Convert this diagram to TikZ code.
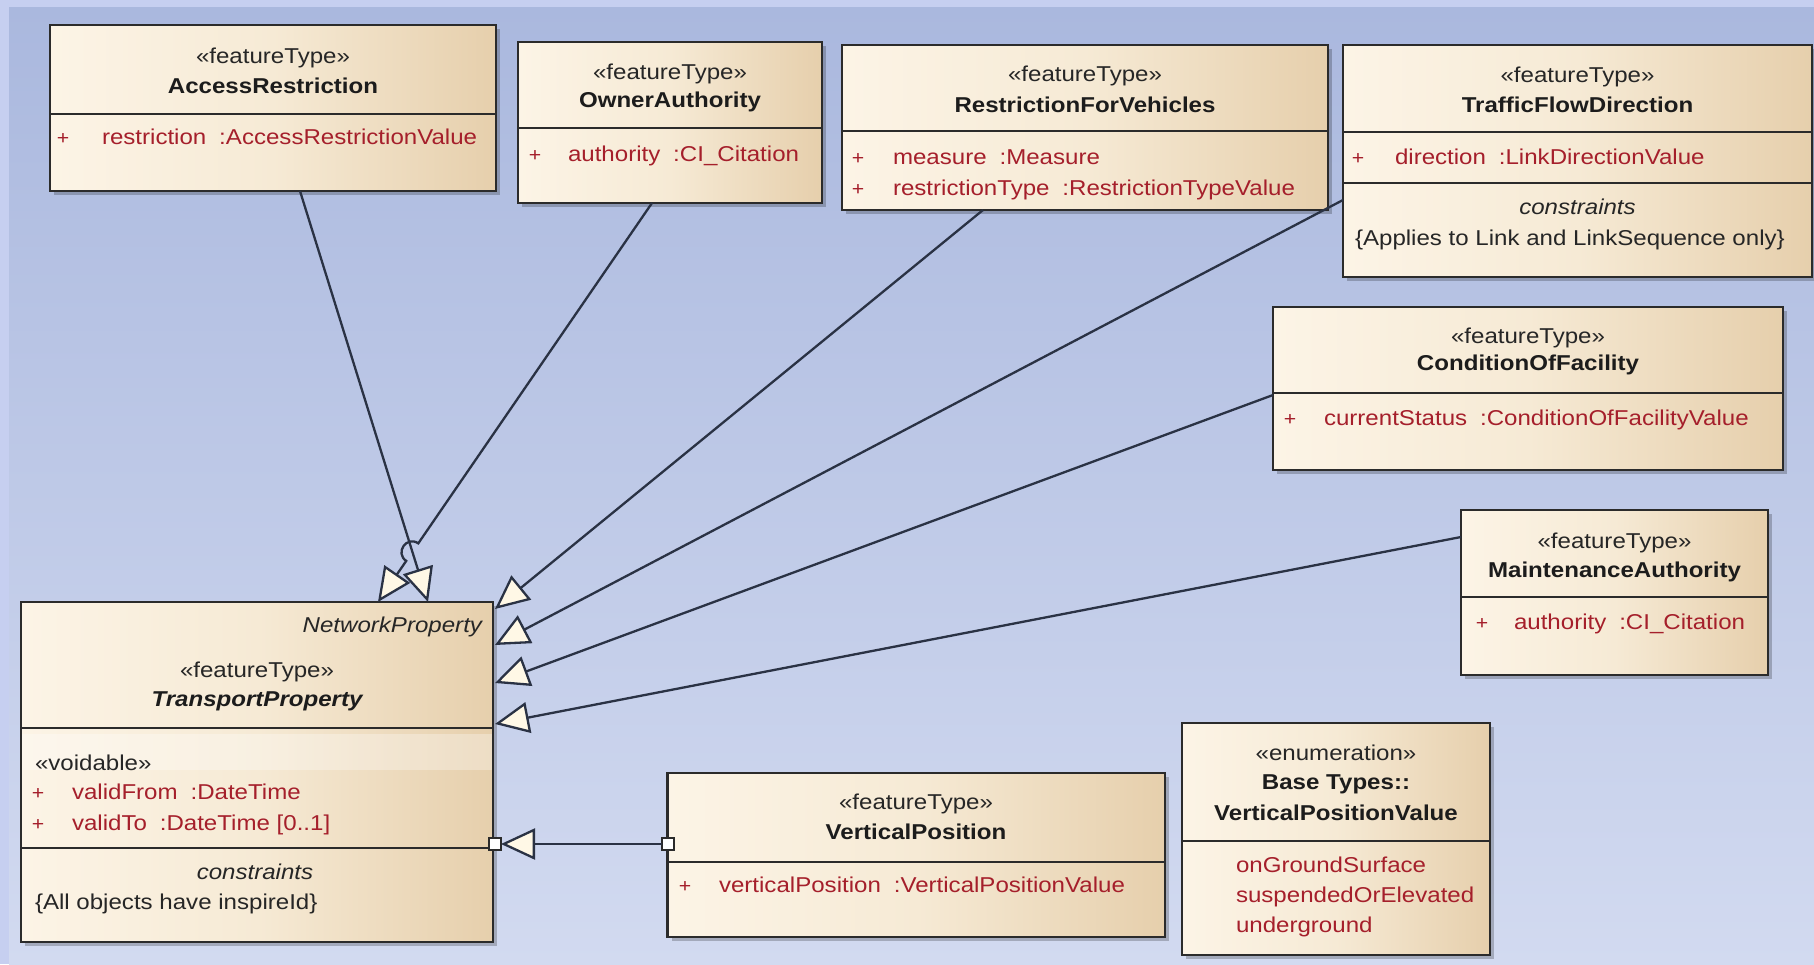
\documentclass[tikz,border=0pt]{standalone}
\usepackage{fontspec}
\setmainfont{Liberation Sans}[FakeStretch=1.12]
\usetikzlibrary{arrows.meta,calc,shadows}
\definecolor{bgEdge}{HTML}{C6CFF0}
\definecolor{bgTop}{HTML}{AAB8DE}
\definecolor{bgBot}{HTML}{D2DAF0}
\definecolor{boxA}{HTML}{FCF4E6}
\definecolor{boxB}{HTML}{F6EAD5}
\definecolor{boxC}{HTML}{E6CFAC}
\definecolor{edgeC}{HTML}{2B2B2B}
\definecolor{lineC}{HTML}{2A3244}
\definecolor{nameC}{HTML}{1C1C1C}
\definecolor{stereoC}{HTML}{262626}
\definecolor{attrC}{HTML}{A51F2B}
\definecolor{tipC}{HTML}{FFF8E6}
\pgfdeclarehorizontalshading{eabox}{100bp}{color(0bp)=(boxA); color(25bp)=(boxA); color(50bp)=(boxB); color(75bp)=(boxC); color(100bp)=(boxC)}
\newcommand\basefont{\fontsize{21.5}{26}\selectfont}
\newcommand\umlbox[5]{\node[umlbox,minimum width={#4pt-#2pt},minimum height={#5pt-#3pt},anchor=north west] (#1) at (#2,#3) {};}
\newcommand\sepat[2]{\draw[sepline] (#1.west |- 0,#2) -- (#1.east |- 0,#2);}
\newcommand\tsep{\hspace{0.6em}}
\begin{document}
\begin{tikzpicture}[x=1pt,y=-1pt,
  umlbox/.style={draw=edgeC, line width=2.5pt, shade, shading=eabox, outer sep=0pt, inner sep=0pt,
    drop shadow={shadow xshift=4pt, shadow yshift=-4pt, opacity=0.22, fill=black}},
  sepline/.style={draw=edgeC, line width=2.3pt},
  txt/.style={inner sep=0pt, outer sep=0pt, text height=15pt, text depth=0pt, font=\basefont},
  stereo/.style={txt, text=stereoC},
  cname/.style={txt, text=nameC, font=\basefont\bfseries},
  attr/.style={txt, anchor=west, text=attrC},
  plain/.style={txt, anchor=west, text=stereoC},
  plus/.style={txt, text=attrC, font=\fontsize{19}{22}\selectfont},
  cons/.style={txt, text=stereoC, font=\basefont\itshape},
  gen/.style={draw=lineC, line width=2.3pt, -{Triangle[length=34pt,width=31pt,fill=tipC]}},
  port/.style={draw=edgeC, fill=white, line width=2pt, minimum size=12pt, inner sep=0pt, outer sep=0pt}]
\useasboundingbox (0,0) rectangle (1814,964);
\fill[bgEdge] (0,0) rectangle (1814,964);
\shade[top color=bgTop,bottom color=bgBot] (9,7) rectangle (1814,964);

% AccessRestriction
\umlbox{ar}{50}{25}{496}{191}
\sepat{ar}{114}
\node[stereo] (arS) at (273,56) {«featureType»};
\node[cname] (arN) at (273,86) {AccessRestriction};
\node[plus] (arP) at (63,137) {+};
\node[attr] (arA) at (102,137) {restriction\tsep:AccessRestrictionValue};

% OwnerAuthority
\umlbox{oa}{518}{42}{822}{203}
\sepat{oa}{128}
\node[stereo] (oaS) at (670,72) {«featureType»};
\node[cname] (oaN) at (670,100) {OwnerAuthority};
\node[plus] (oaP) at (535,154) {+};
\node[attr] (oaA) at (568,154) {authority\tsep:CI\_Citation};

% RestrictionForVehicles
\umlbox{rfv}{842}{45}{1328}{210}
\sepat{rfv}{131}
\node[stereo] (rfvS) at (1085,74) {«featureType»};
\node[cname] (rfvN) at (1085,105) {RestrictionForVehicles};
\node[plus] (rfvP1) at (858,157) {+};
\node[attr] (rfvA1) at (893,157) {measure\tsep:Measure};
\node[plus] (rfvP2) at (858,188) {+};
\node[attr] (rfvA2) at (893,188) {restrictionType\tsep:RestrictionTypeValue};

% TrafficFlowDirection
\umlbox{tfd}{1343}{45}{1812}{277}
\sepat{tfd}{132}
\sepat{tfd}{183}
\node[stereo] (tfdS) at (1577.5,75) {«featureType»};
\node[cname] (tfdN) at (1577.5,105) {TrafficFlowDirection};
\node[plus] (tfdP) at (1358,157) {+};
\node[attr] (tfdA) at (1395,157) {direction\tsep:LinkDirectionValue};
\node[cons] (tfdC) at (1577.5,207) {constraints};
\node[plain] (tfdK) at (1355,238) {\{Applies to Link and LinkSequence only\}};

% ConditionOfFacility
\umlbox{cof}{1273}{307}{1783}{470}
\sepat{cof}{393}
\node[stereo] (cofS) at (1528,336) {«featureType»};
\node[cname] (cofN) at (1528,363) {ConditionOfFacility};
\node[plus] (cofP) at (1290,418) {+};
\node[attr] (cofA) at (1324,418) {currentStatus\tsep:ConditionOfFacilityValue};

% MaintenanceAuthority
\umlbox{ma}{1461}{510}{1768}{675}
\sepat{ma}{597}
\node[stereo] (maS) at (1614.5,541) {«featureType»};
\node[cname] (maN) at (1614.5,570) {MaintenanceAuthority};
\node[plus] (maP) at (1482,622) {+};
\node[attr] (maA) at (1514,622) {authority\tsep:CI\_Citation};

% TransportProperty
\umlbox{tp}{21}{602}{493}{942}
\fill[white,opacity=0.3] (22.2,734) rectangle (491.8,770);
\sepat{tp}{728}
\sepat{tp}{848}
\node[cons,anchor=east] (tpNP) at (482,625) {NetworkProperty};
\node[stereo] (tpS) at (257,670) {«featureType»};
\node[cname,font=\basefont\bfseries\itshape] (tpN) at (257,699) {TransportProperty};
\node[plain] (tpV) at (35,763) {«voidable»};
\node[plus] (tpP1) at (38,792) {+};
\node[attr] (tpA1) at (72,792) {validFrom\tsep:DateTime};
\node[plus] (tpP2) at (38,823) {+};
\node[attr] (tpA2) at (72,823) {validTo\tsep:DateTime [0..1]};
\node[cons] (tpC) at (255,872) {constraints};
\node[plain] (tpK) at (35,902) {\{All objects have inspireId\}};

% VerticalPosition
\umlbox{vp}{667.5}{773}{1165}{937}
\sepat{vp}{862}
\node[stereo] (vpS) at (916,802) {«featureType»};
\node[cname] (vpN) at (916,832) {VerticalPosition};
\node[plus] (vpP) at (685,885) {+};
\node[attr] (vpA) at (719,885) {verticalPosition\tsep:VerticalPositionValue};

% VerticalPositionValue enumeration
\umlbox{en}{1182}{723}{1490}{955}
\sepat{en}{841}
\node[stereo] (enS) at (1336,753) {«enumeration»};
\node[cname] (enN1) at (1336,782) {Base Types::};
\node[cname] (enN2) at (1336,813) {VerticalPositionValue};
\node[attr] (enL1) at (1236,865) {onGroundSurface};
\node[attr] (enL2) at (1236,895) {suspendedOrElevated};
\node[attr] (enL3) at (1236,925) {underground};

% connector end points
\coordinate (arOut) at (300,191);
\coordinate (tpInA) at (428,602);
\coordinate (oaOut) at (652,203);
\coordinate (tpInB) at (378,602);
\coordinate (rfvOut) at (983,210);
\coordinate (tpInC) at (495,609);
\coordinate (tfdOut) at (1343,200);
\coordinate (tpInD) at (495,645);
\coordinate (cofOut) at (1273,395);
\coordinate (tpInE) at (495,683);
\coordinate (maOut) at (1461,537);
\coordinate (tpInF) at (495,724);

\draw[gen] (arOut) -- (tpInA);
\draw[gen] (oaOut) -- ($(oaOut)!0.853!(tpInB)$) to[bend right=90,looseness=1.7] ($(oaOut)!0.897!(tpInB)$) -- (tpInB);
\draw[gen] (rfvOut) -- (tpInC);
\draw[gen] (tfdOut) -- (tpInD);
\draw[gen] (cofOut) -- (tpInE);
\draw[gen] (maOut) -- (tpInF);

\node[port] (tpPort) at (495,844) {};
\node[port] (vpPort) at (667.5,844) {};
\draw[gen] (vpPort) -- (tpPort);
\end{tikzpicture}
\end{document}
